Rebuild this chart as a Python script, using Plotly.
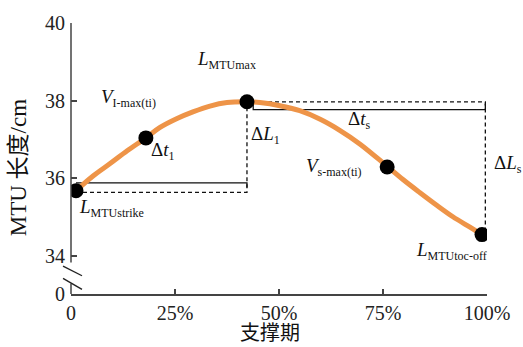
import plotly.graph_objects as go

# ---------------- data ----------------
stance_pct = [1.2, 5.3, 9.4, 13.5, 18.0, 21.4, 25.5, 29.3, 33.4, 37.5, 42.3, 45.4,
              50.2, 55.0, 59.9, 64.7, 69.5, 76.0, 79.8, 83.9, 88.0, 91.8, 95.9, 98.8]
mtu_len = [35.68, 36.06, 36.38, 36.71, 37.04, 37.31, 37.54, 37.71, 37.86, 37.95, 37.97, 37.95,
           37.87, 37.74, 37.52, 37.23, 36.88, 36.31, 35.97, 35.63, 35.30, 35.01, 34.74, 34.55]

key_pct = [1.2, 18.0, 42.3, 76.0, 98.8]
key_len = [35.68, 37.04, 37.97, 36.29, 34.55]

x_tickvals = [0, 25, 50, 75, 100]
x_ticktext = ["0", "25%", "50%", "75%", "100%"]
y_break_value = 33.02          # position standing for "0" below the axis break
y_tickvals = [y_break_value, 34, 36, 38, 40]
y_ticktext = ["0", "34", "36", "38", "40"]

# guide levels (bracket lines)
left_solid_y = 35.88
left_dash_y = 35.64
right_dash_y = 37.97
right_solid_y = 37.77
right_solid_x0 = 43.8
end_x = 99.6

SERIF = "Liberation Serif"
MIXED = "Liberation Serif, Noto Sans CJK SC"

fig = go.Figure()

guide = dict(color="#111", width=1.3)
dashed = dict(color="#111", width=1.3, dash="4px,3px")

# left bracket
fig.add_trace(go.Scatter(x=[key_pct[0], key_pct[2], key_pct[2]],
                         y=[left_solid_y, left_solid_y, left_solid_y - 0.12],
                         mode="lines", line=guide, hoverinfo="skip"))
fig.add_trace(go.Scatter(x=[key_pct[0], key_pct[2], key_pct[2]],
                         y=[left_dash_y, left_dash_y, key_len[2]],
                         mode="lines", line=dashed, hoverinfo="skip"))
# right bracket
fig.add_trace(go.Scatter(x=[key_pct[2], end_x, end_x],
                         y=[right_dash_y, right_dash_y, key_len[4]],
                         mode="lines", line=dashed, hoverinfo="skip"))
fig.add_trace(go.Scatter(x=[right_solid_x0, right_solid_x0, end_x, end_x],
                         y=[key_len[2], right_solid_y, right_solid_y, right_dash_y - 0.05],
                         mode="lines", line=guide, hoverinfo="skip"))

# curve
fig.add_trace(go.Scatter(x=stance_pct, y=mtu_len, mode="lines",
                         line=dict(color="#EE9448", width=5, shape="spline", smoothing=1.0),
                         hoverinfo="skip"))
# key points
fig.add_trace(go.Scatter(x=key_pct, y=key_len, mode="markers",
                         marker=dict(color="black", size=15), hoverinfo="skip"))


def sub(s):
    return "<sub><span style='font-size:12px'>" + s + "</span></sub>"


# ---------------- labels (paper-pixel positions: left edge, vertical centre) ----------------
labels = [
    ("<i>L</i>" + sub("MTUmax"), 195, 54),
    ("<i>V</i>" + sub("I-max(ti)"), 99, 93),
    ("Δ<i>t</i>" + sub("1"), 149, 147),
    ("Δ<i>L</i>" + sub("1"), 249, 131),
    ("<i>L</i>" + sub("MTUstrike"), 77, 206),
    ("Δ<i>t</i>" + sub("s"), 346, 115),
    ("<i>V</i>" + sub("s-max(ti)"), 304, 164),
    ("Δ<i>L</i>" + sub("s"), 492, 161),
    ("<i>L</i>" + sub("MTUtoc-off"), 414, 250),
]
PL, PT, PW, PH = 71, 16, 416, 278
annotations = []
for txt, px, py in labels:
    annotations.append(dict(text=txt, x=(px - PL) / PW, y=(PT + PH - py) / PH,
                            xref="paper", yref="paper", showarrow=False,
                            xanchor="left", yanchor="middle",
                            font=dict(family=SERIF, size=19, color="#111")))

# axis titles
annotations.append(dict(text="支撑期", x=(270 - PL) / PW, y=-(334 - PT - PH) / PH,
                        xref="paper", yref="paper", showarrow=False,
                        xanchor="center", yanchor="middle",
                        font=dict(family=MIXED, size=20, color="#111")))
annotations.append(dict(text="MTU 长度/cm", x=-(PL - 18) / PW, y=(PT + PH - 165) / PH,
                        xref="paper", yref="paper", showarrow=False, textangle=-90,
                        xanchor="center", yanchor="middle",
                        font=dict(family=MIXED, size=23, color="#111")))

# broken y-axis line and break marks
axis_col = "#444"
shapes = [
    dict(type="line", xref="paper", yref="y", x0=0, x1=0, y0=40, y1=33.83,
         line=dict(color=axis_col, width=1.5)),
    dict(type="line", xref="paper", yref="y", x0=0, x1=0, y0=33.29, y1=y_break_value,
         line=dict(color=axis_col, width=1.5)),
    dict(type="line", xref="paper", yref="y", x0=-0.0192, x1=0.0264, y0=33.74, y1=33.49,
         line=dict(color="#222", width=1.4)),
    dict(type="line", xref="paper", yref="y", x0=-0.0192, x1=0.0264, y0=33.42, y1=33.14,
         line=dict(color="#222", width=1.4)),
]

fig.update_layout(
    width=523, height=347,
    margin=dict(l=PL, r=523 - PL - PW, t=PT, b=347 - PT - PH),
    plot_bgcolor="white", paper_bgcolor="white",
    showlegend=False,
    annotations=annotations,
    shapes=shapes,
    xaxis=dict(range=[0, 100], showline=True, linecolor=axis_col, linewidth=1.5,
               ticks="inside", ticklen=5, tickwidth=1.5, tickcolor=axis_col,
               tickvals=x_tickvals, ticktext=x_ticktext, showgrid=False, zeroline=False,
               tickfont=dict(family=SERIF, size=20, color="#222")),
    yaxis=dict(range=[y_break_value, 40], showline=False,
               ticks="inside", ticklen=6, tickwidth=1.5, tickcolor=axis_col,
               tickvals=y_tickvals, ticktext=y_ticktext, showgrid=False, zeroline=False,
               ticklabelstandoff=5,
               tickfont=dict(family=SERIF, size=20, color="#222")),
)

fig.write_html("out.html", config={"displayModeBar": False},
               post_script="document.body.style.margin='0px';document.body.style.padding='0px';")
